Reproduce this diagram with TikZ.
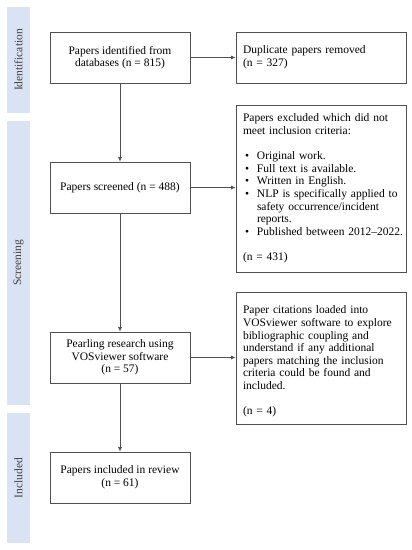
\documentclass[tikz,border=0pt]{standalone}
\usepackage{fontspec}
\setmainfont{Liberation Serif}
\usetikzlibrary{arrows.meta}
\definecolor{barblue}{RGB}{218,227,243}
\definecolor{bartext}{RGB}{64,64,64}
\definecolor{edge}{RGB}{80,80,80}
\tikzset{
  txt/.style={font=\fontsize{11.5}{12.6}\selectfont},
  bar/.style={fill=barblue, draw=none, minimum height=23pt, inner sep=0pt, text=bartext, txt},
  lbox/.style={draw=edge, line width=0.8pt, minimum width=140pt, minimum height=51pt, align=center, txt, inner sep=2pt},
  rbox/.style={draw=edge, line width=0.8pt, minimum width=170pt, text width=156pt, inner sep=7pt, align=left, txt},
  arr/.style={draw=edge, line width=0.7pt, -{Latex[length=4.5pt,width=4pt]}}
}
\newcommand{\bul}{\hspace*{2pt}\makebox[12pt][l]{\textbullet}}
\newcommand{\ind}{\hspace*{14pt}}
\begin{document}
\begin{tikzpicture}[x=1pt,y=1pt]
\useasboundingbox (0,0) rectangle (412,550);
% side bars
\node[bar, minimum width=106pt, rotate=90] (idbar) at (18.5,490) {Identification};
\node[bar, minimum width=284pt, rotate=90] (scbar) at (18.5,287) {Screening};
\node[bar, minimum width=130pt, rotate=90] (inbar) at (18.5,72) {Included};
% left boxes
\node[lbox] (b1) at (120,492.5) {Papers identified from\\databases (n = 815)};
\node[lbox] (b2) at (120,362.5) {Papers screened (n = 488)};
\node[lbox] (b3) at (120,192.5) {Pearling research using\\VOSviewer software\\(n = 57)};
\node[lbox] (b4) at (120,72.5) {Papers included in review\\(n = 61)};
% right boxes
\node[rbox, minimum height=51pt] (r1) at (321,492.5) {Duplicate papers removed\\(n = 327)};
\node[rbox, minimum height=167pt] (r2) at (321,361.5) {Papers excluded which did not\\meet inclusion criteria:\\[12.6pt]
\bul Original work.\\
\bul Full text is available.\\
\bul Written in English.\\
\bul NLP is specifically applied to\\
\ind safety occurrence/incident\\
\ind reports.\\
\mbox{\bul Published between 2012--2022.}\\[12.6pt]
(n = 431)};
\node[rbox, minimum height=123pt] (r3) at (321,191.5) {\rule{0pt}{14pt}Paper citations loaded into\\VOSviewer software to explore\\bibliographic coupling and\\understand if any additional\\papers matching the inclusion\\criteria could be found and\\included.\\[12.6pt](n = 4)};
% connectors
\draw[arr] (b1) -- (b2);
\draw[arr] (b2) -- (b3);
\draw[arr] (b3) -- (b4);
\draw[arr] (b1.east) -- (b1.east -| r1.west);
\draw[arr] (b2.east) -- (b2.east -| r2.west);
\draw[arr] (b3.east) -- (b3.east -| r3.west);
\end{tikzpicture}
\end{document}
